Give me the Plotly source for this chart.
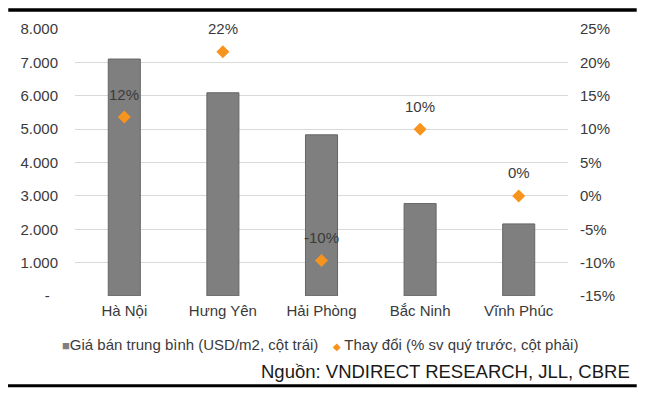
import plotly.graph_objects as go

# data
cities = ["Hà Nội", "Hưng Yên", "Hải Phòng", "Bắc Ninh", "Vĩnh Phúc"]
avg_price = [7100, 6090, 4830, 2770, 2160]        # USD/m2, left axis
qoq_change = [11.8, 21.6, -9.7, 10.0, 0.0]        # %, right axis

left_ticks = [0, 1000, 2000, 3000, 4000, 5000, 6000, 7000, 8000]
left_ticktext = ["-\u2007", "1.000", "2.000", "3.000", "4.000",
                 "5.000", "6.000", "7.000", "8.000"]
right_ticks = [-15, -10, -5, 0, 5, 10, 15, 20, 25]

bar_name = "Giá bán trung bình (USD/m2, cột trái)"
dot_name = "Thay đổi (% sv quý trước, cột phải)"
source = "Nguồn: VNDIRECT RESEARCH, JLL, CBRE"

FONT = "Liberation Sans, Arial, sans-serif"
TXT = "#3a3a3a"
BAR = "#7f7f7f"
ORANGE = "#f7941d"

fig = go.Figure()

fig.add_trace(go.Bar(
    x=cities, y=avg_price, name=bar_name,
    marker=dict(color=BAR, line=dict(color="#666666", width=1)),
    yaxis="y",
))

fig.add_trace(go.Scatter(
    x=cities, y=qoq_change, name=dot_name, mode="markers",
    marker=dict(symbol="diamond", size=10, color=ORANGE),
    yaxis="y2",
))

# data labels above the diamonds
for c, v in zip(cities, qoq_change):
    fig.add_annotation(
        x=c, y=v, yref="y2", text=f"{v:.0f}%", showarrow=False,
        yshift=23, font=dict(family=FONT, size=15, color=TXT),
    )

# legend drawn as one line of text (tight symbol spacing like the original)
legend_text = (
    f'<span style="color:{BAR};font-size:13px">■</span>{bar_name}'
    f'\u2003<span style="color:{ORANGE};font-size:10px">◆</span>\u2009{dot_name}'
)
fig.add_annotation(
    xref="paper", yref="paper", x=-0.03, y=-0.182,
    xanchor="left", yanchor="middle", text=legend_text, showarrow=False,
    font=dict(family=FONT, size=15, color=TXT),
)

fig.add_annotation(
    xref="paper", yref="paper", x=1.1293, y=-0.281,
    xanchor="right", yanchor="middle", text=source, showarrow=False,
    font=dict(family=FONT, size=18.5, color="#1a1a1a"),
)

# thick rules at top and bottom of the exhibit
fig.add_shape(type="line", xref="paper", yref="paper",
              x0=-0.1354, x1=1.1394, y0=1.0713, y1=1.0713,
              line=dict(color="black", width=3.5))
fig.add_shape(type="line", xref="paper", yref="paper",
              x0=-0.141, x1=1.1394, y0=-0.336, y1=-0.336,
              line=dict(color="black", width=3))

# page body has an 8px margin, so the figure is sized to fit the window
fig.update_layout(
    width=640, height=394,
    margin=dict(l=65, r=80, t=19, b=106),
    paper_bgcolor="white", plot_bgcolor="white",
    showlegend=False,
    bargap=0.675,
    font=dict(family=FONT, size=15, color=TXT),
    xaxis=dict(
        showgrid=False, showline=False, zeroline=False, ticks="",
        tickfont=dict(size=15, color=TXT), ticklabelstandoff=4,
    ),
    yaxis=dict(
        range=[0, 8000], tickvals=left_ticks, ticktext=left_ticktext,
        showgrid=True, gridcolor="#d9d9d9", gridwidth=1,
        zeroline=False, showline=False, ticks="",
        tickfont=dict(size=15, color=TXT), ticklabelstandoff=16,
    ),
    yaxis2=dict(
        range=[-15, 25], tickvals=right_ticks,
        ticktext=[f"{t}%" for t in right_ticks],
        overlaying="y", side="right", showgrid=False,
        zeroline=False, showline=False, ticks="",
        tickfont=dict(size=15, color=TXT), ticklabelstandoff=11,
    ),
)

fig.write_html("out.html")
